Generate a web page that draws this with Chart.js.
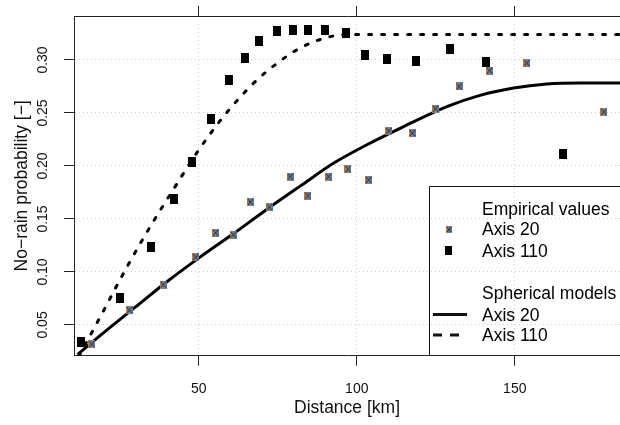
<!DOCTYPE html>
<html>
<head>
<meta charset="utf-8">
<script src="https://cdn.jsdelivr.net/npm/chart.js@4.4.1/dist/chart.umd.min.js"></script>
<style>
  html, body { margin: 0; padding: 0; background: #fff; overflow: hidden; }
  canvas { display: block; }
</style>
</head>
<body>
<canvas id="chart" width="620" height="425"></canvas>
<script>
// empirical values
const distAxis20 = [16.1, 28.0, 38.8, 49.0, 55.3, 60.9, 66.3, 72.3, 78.9, 84.5, 91.0, 97.2, 103.7, 110.1, 117.6, 124.9, 132.4, 142.0, 153.8, 178.2];
const probAxis20 = [0.032, 0.064, 0.088, 0.114, 0.137, 0.135, 0.166, 0.161, 0.190, 0.172, 0.190, 0.197, 0.187, 0.233, 0.231, 0.254, 0.275, 0.290, 0.297, 0.251];
const distAxis110 = [12.8, 25.0, 34.8, 42.0, 48.0, 53.7, 59.6, 64.7, 69.1, 74.7, 79.9, 84.5, 90.0, 96.5, 102.6, 109.5, 118.7, 129.5, 140.9, 165.4];
const probAxis110 = [0.034, 0.075, 0.124, 0.169, 0.204, 0.244, 0.281, 0.302, 0.318, 0.327, 0.328, 0.328, 0.328, 0.325, 0.305, 0.301, 0.299, 0.310, 0.298, 0.211];

// spherical model curves
const distModel20 = [11.6, 20, 30, 40, 50.4, 60.9, 71.5, 82.1, 92.6, 103.2, 113.7, 128.5, 139.0, 149.6, 160.1, 170.7, 184];
const probModel20 = [0.022, 0.043, 0.067, 0.091, 0.114, 0.136, 0.159, 0.181, 0.2025, 0.220, 0.2355, 0.256, 0.2666, 0.2735, 0.2773, 0.2782, 0.2782];
const distModel110 = [12, 15.6, 19.6, 23.5, 27.5, 31.7, 35.9, 42.6, 49.5, 56.7, 62.2, 68.0, 74.4, 81.3, 89.1, 96.8, 184];
const probModel110 = [0.020, 0.040, 0.062, 0.084, 0.106, 0.128, 0.149, 0.181, 0.213, 0.2425, 0.262, 0.280, 0.296, 0.310, 0.320, 0.324, 0.324];

const xTicks = [50, 100, 150];
const yTicks = [0.05, 0.10, 0.15, 0.20, 0.25, 0.30];

const FONT = "'Liberation Sans', Arial, Helvetica, sans-serif";

function pairs(xs, ys) {
    return xs.map((x, i) => ({x: x, y: ys[i]}));
}

function makeMarker(w, h, draw) {
    var c = document.createElement('canvas');
    c.width = w;
    c.height = h;
    draw(c.getContext('2d'), w, h);
    return c;
}

// square with a cross inside (R pch 7 look)
function crossBox(w, h) {
    return makeMarker(w, h, function(g) {
        g.fillStyle = '#7e8088';
        g.fillRect(0, 0, w, h);
        g.fillStyle = '#b87a3a';
        g.fillRect(0, 0, 1, h);
        g.fillStyle = '#4a78b0';
        g.fillRect(w - 1, 0, 1, h);
        g.strokeStyle = '#2a2a2a';
        g.lineWidth = 1;
        g.beginPath();
        g.moveTo(1, 1); g.lineTo(w - 1, h - 1);
        g.moveTo(w - 1, 1); g.lineTo(1, h - 1);
        g.stroke();
    });
}
function blackBox(w, h) {
    return makeMarker(w, h, function(g) {
        g.fillStyle = '#000';
        g.fillRect(0, 0, w, h);
    });
}

const legendPlugin = {
    id: 'rLegend',
    afterDraw(chart) {
        const a = chart.chartArea;
        const c = chart.ctx;
        const bx = a.left + 355.5, by = a.top + 170.5;
        c.save();
        c.strokeStyle = '#111';
        c.lineWidth = 1;
        c.beginPath();
        c.moveTo(bx, a.bottom);
        c.lineTo(bx, by);
        c.lineTo(chart.width + 2, by);
        c.stroke();

        c.fillStyle = '#000';
        c.font = '17.5px ' + FONT;
        c.textBaseline = 'alphabetic';
        const tx = bx + 52.5;
        c.fillText('Empirical values', tx, by + 28.5);
        c.fillText('Axis 20', tx, by + 48.5);
        c.fillText('Axis 110', tx, by + 70);
        c.fillText('Spherical models', tx, by + 112.5);
        c.fillText('Axis 20', tx, by + 134.5);
        c.fillText('Axis 110', tx, by + 154.5);

        const mx = bx + 19;
        const m1 = crossBox(6, 7);
        c.drawImage(m1, Math.round(mx - 3), Math.round(by + 42.5 - 3.5));
        const m2 = blackBox(7, 9);
        c.drawImage(m2, Math.round(mx - 3.5), Math.round(by + 64 - 4.5));

        c.lineWidth = 3;
        c.beginPath();
        c.moveTo(bx + 3.5, by + 128);
        c.lineTo(bx + 37.5, by + 128);
        c.stroke();
        c.setLineDash([9, 8]);
        c.beginPath();
        c.moveTo(bx + 3.5, by + 148.5);
        c.lineTo(bx + 37.5, by + 148.5);
        c.stroke();
        c.restore();
    }
};

const gridCommon = {
    color: '#cfcfcf',
    lineWidth: 1,
    tickColor: '#222',
    tickLength: 10,
    tickWidth: 1
};
const borderCommon = { color: '#222', width: 1, dash: [1, 3] };

// keep the plot box at a fixed place: no extra label padding
function noPad(s) {
    s.paddingLeft = 0;
    s.paddingRight = 0;
    s.paddingTop = 0;
    s.paddingBottom = 0;
}

var ctx = document.getElementById('chart').getContext('2d');
var myChart = new Chart(ctx, {
    type: 'scatter',
    data: {
        datasets: [{
            label: 'Axis 20',
            data: pairs(distAxis20, probAxis20),
            pointStyle: crossBox(7, 8),
            pointRadius: 4
        }, {
            label: 'Axis 110',
            data: pairs(distAxis110, probAxis110),
            pointStyle: blackBox(8, 10),
            pointRadius: 4
        }, {
            label: 'Spherical Axis 20',
            data: pairs(distModel20, probModel20),
            showLine: true,
            borderColor: '#000',
            borderWidth: 3,
            pointRadius: 0,
            cubicInterpolationMode: 'monotone'
        }, {
            label: 'Spherical Axis 110',
            data: pairs(distModel110, probModel110),
            showLine: true,
            borderColor: '#000',
            borderWidth: 3,
            borderDash: [3, 10],
            borderCapStyle: 'round',
            pointRadius: 0,
            cubicInterpolationMode: 'monotone'
        }]
    },
    options: {
        responsive: false,
        animation: false,
        layout: { padding: 0, autoPadding: false },
        plugins: {
            legend: { display: false },
            tooltip: { enabled: false }
        },
        scales: {
            x: {
                type: 'linear',
                position: 'bottom',
                min: 10.5,
                max: 183.3,
                bounds: 'data',
                afterBuildTicks: s => { s.ticks = xTicks.map(v => ({value: v})); },
                ticks: {
                    color: '#111',
                    font: { family: FONT, size: 14 },
                    padding: 15,
                    maxRotation: 0
                },
                grid: gridCommon,
                border: borderCommon,
                title: {
                    display: true,
                    text: 'Distance [km]',
                    color: '#111',
                    font: { family: FONT, size: 17.5 },
                    padding: { top: 0, bottom: 6 }
                },
                afterFit: s => { s.height = 69.3; noPad(s); }
            },
            x2: {
                type: 'linear',
                axis: 'x',
                position: 'top',
                min: 10.5,
                max: 183.3,
                bounds: 'data',
                afterBuildTicks: s => { s.ticks = xTicks.map(v => ({value: v})); },
                ticks: { display: false },
                grid: Object.assign({}, gridCommon, { drawOnChartArea: false }),
                border: { color: '#222', width: 1 },
                afterFit: s => { s.height = 16; noPad(s); }
            },
            y: {
                type: 'linear',
                min: 0.021,
                max: 0.3415,
                bounds: 'data',
                afterBuildTicks: s => { s.ticks = yTicks.map(v => ({value: v})); },
                ticks: {
                    color: '#111',
                    font: { family: FONT, size: 14 },
                    minRotation: 90,
                    maxRotation: 90,
                    crossAlign: 'center',
                    padding: 7,
                    callback: v => v.toFixed(2)
                },
                grid: gridCommon,
                border: borderCommon,
                title: {
                    display: true,
                    text: 'No\u2212rain probability [\u2212]',
                    color: '#111',
                    font: { family: FONT, size: 17.5 },
                    padding: { top: 12, bottom: 0 }
                },
                afterFit: s => { s.width = 74; noPad(s); }
            }
        }
    },
    plugins: [legendPlugin]
});
</script>
</body>
</html>
